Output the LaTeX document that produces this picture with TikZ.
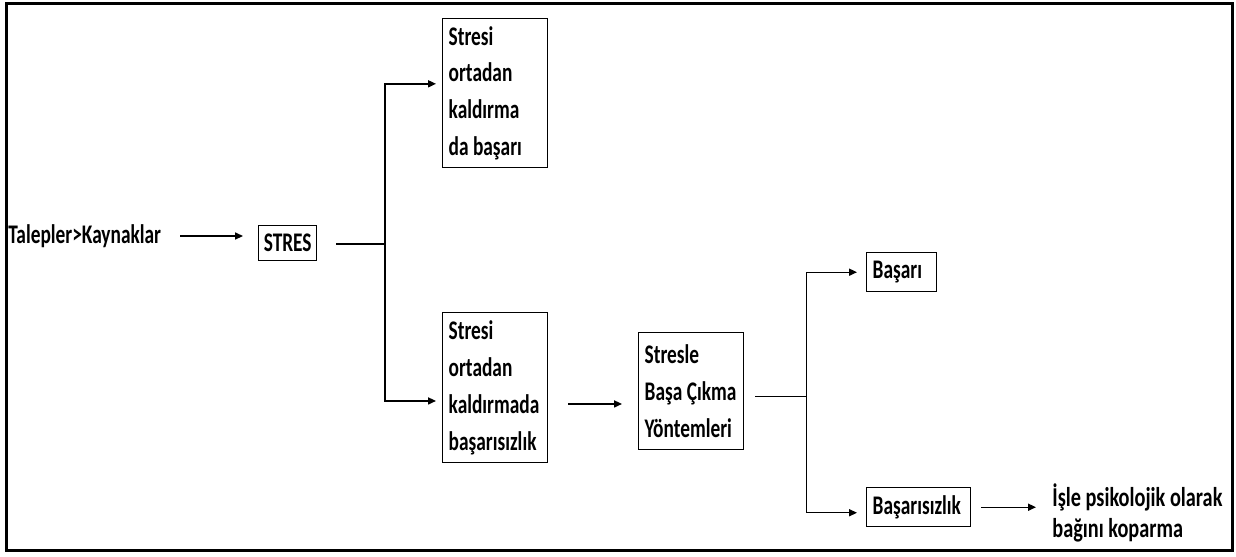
\documentclass[tikz,border=0pt]{standalone}
\usepackage{fontspec}
\setmainfont{Carlito}[FakeStretch=0.72, BoldFeatures={FakeStretch=0.72}]
\newfontfamily\genisfont{Carlito}[FakeStretch=0.745, BoldFeatures={FakeStretch=0.745}]
\usetikzlibrary{arrows.meta, positioning}

\tikzset{
  kutu/.style={draw, line width=0.8pt, anchor=north west, align=flush left, inner xsep=0.12cm, inner ysep=0pt},
  ok/.style={line width=0.8pt, -{Triangle[length=4.5pt, width=4pt]}},
  cizgi/.style={line width=0.8pt},
}
\newcommand{\yazi}{\bfseries\fontsize{15.3}{21}\selectfont}

\begin{document}
\begin{tikzpicture}[x=0.02cm, y=-0.02cm, font=\yazi]
\useasboundingbox (0,0) rectangle (1236,556);
% dis cerceve
\draw[line width=1.7pt] (6.5,3) rectangle (1232,550);

% giris ve stres
\node[anchor=west, inner sep=0pt] (talep) at (8,236) {Talepler>Kaynaklar};
\node[kutu, text width=0.96cm, inner xsep=0.1cm, align=flush center, minimum height=0.7cm] (stres) at (258,225) {STRES};

% ilk dallanma
\node[kutu, text width=1.86cm, minimum height=2.98cm] (kutu1) at (442,18) {Stresi\\ortadan\\kaldırma\\da başarı};
\node[kutu, text width=1.86cm, minimum height=3.0cm] (kutu2) at (442,312) {Stresi\\ortadan\\kaldırmada\\başarısızlık};

% basa cikma
\node[kutu, text width=1.86cm, minimum height=2.34cm] (kutu3) at (638,332) {Stresle\\Başa~Çıkma\\Yöntemleri};

% sonuclar
\node[kutu, text width=1.16cm, minimum height=0.78cm] (basari) at (866,252) {Başarı};
\node[kutu, text width=1.84cm, minimum height=0.78cm] (basarisiz) at (866,487) {Başarısızlık};
\node[anchor=west, align=flush left, inner sep=0pt, font=\genisfont\bfseries\fontsize{15.5}{17.6}\selectfont] (kopma) at (1052,513) {İşle psikolojik olarak\\bağını koparma};

% baglantilar
\draw[ok, shorten <=0.38cm, shorten >=0.3cm] (talep.east) -- (talep.east -| stres.west);

\coordinate (d1) at (385,244);
\draw[cizgi, shorten <=0.38cm] (stres.east |- d1) -- (d1);
\draw[ok, shorten >=0.12cm] (d1) |- (kutu1.170);
\draw[ok, shorten >=0.12cm] (d1) |- (kutu2.194);

\draw[ok, shorten <=0.4cm, shorten >=0.32cm] (kutu2.-17) -- (kutu2.-17 -| kutu3.west);

\draw[cizgi, shorten <=0.22cm] (kutu3.-6) -- ++(62,0) coordinate (d2);
\draw[ok, shorten >=0.18cm] (d2) |- (basari.west);
\draw[ok, shorten >=0.18cm] (d2) |- (basarisiz.186);

\draw[ok, shorten <=0.2cm, shorten >=0.32cm] (basarisiz.east) -- (basarisiz.east -| kopma.west);
\end{tikzpicture}
\end{document}
